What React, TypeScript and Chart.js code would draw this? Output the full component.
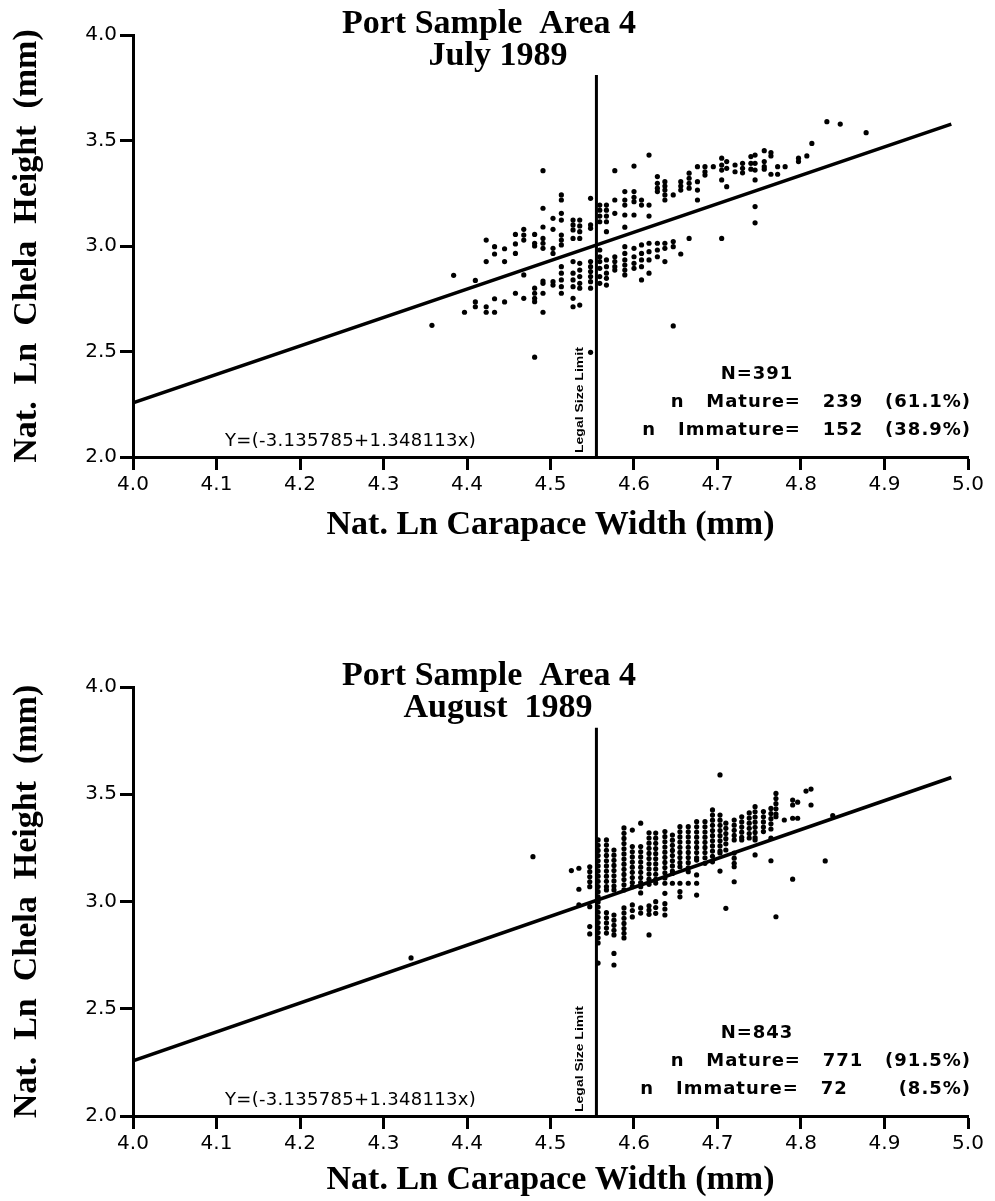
import React, { useEffect, useRef } from "react";
import { Chart, registerables } from "chart.js";

Chart.register(...registerables);

// ---------- data ----------
const X_MIN = 4.0;
const X_MAX = 5.0;
const X_STEP = 0.1;
const Y_MIN = 2.0;
const Y_MAX = 4.0;
const Y_STEP = 0.5;

// regression line endpoints (Y = -3.135785 + 1.348113x)
const regLineX = [4.0, 4.98];
const regLineY = [2.257, 3.578];

// legal size limit vertical line
const legalLimitX = 4.555;
const legalLineY = [2.0, 3.81];

const equationText = "Y=(-3.135785+1.348113x)";
const legalText = "Legal Size Limit";
const xAxisTitle = "Nat. Ln Carapace Width (mm)";
const yAxisTitle = "Nat.  Ln  Chela  Height  (mm)";

const julyTitle = ["Port Sample  Area 4", "July 1989"];
const julyStats = ["N=391", "n   Mature=   239   (61.1%)", "n   Immature=   152   (38.9%)"];
const augTitle = ["Port Sample  Area 4", "August  1989"];
const augStats = ["N=843", "n   Mature=   771   (91.5%)", "n   Immature=   72       (8.5%)"];

// July 1989: ln carapace width columns and the ln chela heights in each
const julyWidths = [
  4.358, 4.384, 4.397, 4.41, 4.423, 4.433, 4.445, 4.458, 4.468, 4.481,
  4.491, 4.503, 4.513, 4.527, 4.535, 4.548, 4.559, 4.567, 4.577, 4.589,
  4.6, 4.609, 4.618, 4.628, 4.637, 4.647, 4.656, 4.666, 4.676, 4.685,
  4.695, 4.705, 4.711, 4.721, 4.73, 4.74, 4.745, 4.756, 4.764, 4.772,
  4.781, 4.797, 4.807, 4.813, 4.831, 4.847, 4.878,
];
const julyHeights = [
  [2.624],
  [2.861],
  [2.686],
  [2.837, 2.735, 2.712],
  [3.028, 2.926, 2.712, 2.686],
  [2.997, 2.962, 2.75, 2.686],
  [2.987, 2.926, 2.735],
  [3.055, 3.01, 2.965, 2.776],
  [3.079, 3.052, 3.028, 2.863, 2.752],
  [3.055, 3.013, 3.0, 2.8, 2.776, 2.752, 2.736, 2.473],
  [3.357, 3.179, 3.09, 3.036, 3.013, 2.989, 2.834, 2.823, 2.776, 2.686],
  [3.131, 3.079, 2.989, 2.965, 2.831, 2.815],
  [3.242, 3.218, 3.155, 3.123, 3.052, 3.028, 3.005, 2.902, 2.871, 2.839, 2.807, 2.776],
  [3.123, 3.1, 3.076, 3.036, 2.926, 2.871, 2.839, 2.807, 2.752, 2.712],
  [3.123, 3.095, 3.068, 3.036, 2.918, 2.886, 2.855, 2.823, 2.8, 2.72],
  [3.226, 3.1, 3.084, 2.926, 2.902, 2.879, 2.855, 2.831, 2.8, 2.496],
  [3.194, 3.17, 3.142, 3.115, 2.981, 2.949, 2.926, 2.894, 2.855, 2.823],
  [3.194, 3.17, 3.142, 3.115, 3.068, 2.934, 2.902, 2.871, 2.847, 2.815],
  [3.357, 3.218, 3.155, 2.949, 2.926, 2.902, 2.886],
  [3.258, 3.218, 3.194, 3.147, 3.089, 2.997, 2.965, 2.934, 2.91, 2.886, 2.863],
  [3.379, 3.258, 3.231, 3.21, 3.147, 2.989, 2.949, 2.918, 2.894],
  [3.218, 3.194, 3.005, 2.965, 2.934, 2.902, 2.839],
  [3.431, 3.194, 3.142, 3.013, 2.973, 2.934, 2.871],
  [3.329, 3.297, 3.274, 3.258, 3.013, 2.981, 2.949],
  [3.305, 3.284, 3.265, 3.242, 3.218, 3.013, 2.989, 2.926],
  [3.242, 3.021, 2.997, 2.621],
  [3.305, 3.284, 3.265, 2.962],
  [3.345, 3.321, 3.297, 3.274, 3.036],
  [3.376, 3.305, 3.265, 3.218],
  [3.376, 3.352, 3.336],
  [3.376],
  [3.416, 3.384, 3.36, 3.313, 3.036],
  [3.4, 3.368, 3.281],
  [3.384, 3.352],
  [3.392, 3.368, 3.347],
  [3.424, 3.392, 3.364],
  [3.431, 3.392, 3.36, 3.313, 3.187, 3.11],
  [3.452, 3.4, 3.376, 3.364],
  [3.443, 3.427, 3.34],
  [3.376, 3.34],
  [3.376],
  [3.416, 3.4],
  [3.427],
  [3.486],
  [3.589],
  [3.578],
  [3.537],
];

// August 1989
const augWidths = [
  4.333, 4.479, 4.525, 4.534, 4.547, 4.557, 4.567, 4.576, 4.588, 4.598,
  4.608, 4.618, 4.626, 4.637, 4.646, 4.655, 4.665, 4.675, 4.685, 4.694,
  4.703, 4.71, 4.72, 4.729, 4.738, 4.745, 4.755, 4.764, 4.77, 4.78,
  4.79, 4.796, 4.806, 4.812, 4.829, 4.838,
];
const augHeights = [
  [2.737],
  [3.209],
  [3.144],
  [3.155, 3.057, 2.984],
  [3.162, 3.139, 3.115, 3.092, 3.069, 2.976, 2.883, 2.849],
  [3.287, 3.262, 3.238, 3.214, 3.19, 3.166, 3.142, 3.118, 3.094, 3.07, 3.046, 3.022, 2.998, 2.974, 2.95, 2.926, 2.902, 2.878, 2.855, 2.831, 2.807, 2.713],
  [3.287, 3.263, 3.239, 3.215, 3.19, 3.166, 3.142, 3.118, 3.094, 3.07, 3.054, 2.948, 2.924, 2.9, 2.876, 2.853],
  [3.24, 3.216, 3.192, 3.168, 3.144, 3.12, 3.096, 3.072, 3.054, 2.937, 2.913, 2.889, 2.866, 2.844, 2.758, 2.704],
  [3.343, 3.318, 3.294, 3.27, 3.246, 3.222, 3.198, 3.174, 3.15, 3.126, 3.102, 3.078, 3.054, 2.97, 2.946, 2.922, 2.898, 2.874, 2.852, 2.83],
  [3.333, 3.256, 3.232, 3.208, 3.184, 3.16, 3.136, 3.112, 3.088, 3.069, 2.984, 2.958, 2.928],
  [3.365, 3.256, 3.232, 3.208, 3.184, 3.16, 3.136, 3.112, 3.088, 3.069, 3.04, 2.97, 2.946],
  [3.32, 3.296, 3.272, 3.248, 3.224, 3.2, 3.176, 3.152, 3.128, 3.104, 3.08, 2.98, 2.96, 2.94, 2.844],
  [3.319, 3.295, 3.271, 3.247, 3.223, 3.199, 3.175, 3.151, 3.127, 3.103, 3.086, 2.999, 2.972, 2.945],
  [3.326, 3.302, 3.278, 3.254, 3.23, 3.206, 3.182, 3.158, 3.134, 3.11, 3.085, 3.038, 2.99, 2.965, 2.937],
  [3.31, 3.286, 3.262, 3.238, 3.214, 3.19, 3.166, 3.142, 3.131, 3.085],
  [3.349, 3.325, 3.301, 3.277, 3.253, 3.229, 3.205, 3.181, 3.162, 3.085, 3.046, 3.022],
  [3.349, 3.325, 3.301, 3.277, 3.253, 3.229, 3.205, 3.181, 3.157, 3.139, 3.085],
  [3.372, 3.348, 3.324, 3.3, 3.276, 3.252, 3.228, 3.204, 3.193, 3.124, 3.085, 3.03],
  [3.372, 3.348, 3.324, 3.3, 3.276, 3.252, 3.228, 3.204, 3.178],
  [3.427, 3.403, 3.379, 3.355, 3.331, 3.307, 3.283, 3.259, 3.235, 3.211, 3.185],
  [3.59, 3.403, 3.379, 3.355, 3.331, 3.307, 3.283, 3.259, 3.235, 3.226, 3.142],
  [3.365, 3.341, 3.317, 3.293, 3.269, 3.24, 2.968],
  [3.38, 3.356, 3.332, 3.308, 3.287, 3.226, 3.202, 3.178, 3.162, 3.092],
  [3.395, 3.371, 3.347, 3.323, 3.299, 3.287],
  [3.413, 3.389, 3.365, 3.341, 3.317, 3.296],
  [3.442, 3.418, 3.394, 3.37, 3.346, 3.322, 3.298, 3.287, 3.217],
  [3.419, 3.395, 3.371, 3.347, 3.326],
  [3.434, 3.41, 3.386, 3.362, 3.338, 3.295, 3.19],
  [3.504, 3.48, 3.456, 3.432, 3.408, 3.395, 2.929],
  [3.38],
  [3.473, 3.45, 3.388, 3.104],
  [3.463, 3.388],
  [3.515],
  [3.524, 3.45],
  [3.189],
  [3.4],
];

// ---------- drawing ----------
function setSpacing(ctx: any, v: string) {
  if ("letterSpacing" in ctx) ctx.letterSpacing = v;
}

const panelTextPlugin = {
  id: "panelText",
  afterDraw(chart: any, _args: any, opts: any) {
    const { ctx, chartArea: a, scales } = chart;
    ctx.save();
    ctx.fillStyle = "#000";
    // panel title
    ctx.font = 'bold 34px "Liberation Serif"';
    ctx.textAlign = "center";
    ctx.textBaseline = "alphabetic";
    ctx.fillText(opts.title[0], 489, a.top - 2);
    ctx.fillText(opts.title[1], 498, a.top + 30);
    // equation
    ctx.font = '18px "DejaVu Sans"';
    setSpacing(ctx, "0.3px");
    ctx.textAlign = "left";
    ctx.fillText(opts.equation, 225, a.bottom - 11);
    // counts
    ctx.font = 'bold 18px "DejaVu Sans"';
    setSpacing(ctx, "1px");
    ctx.textAlign = "center";
    ctx.fillText(opts.stats[0], 757, a.bottom - 78);
    ctx.textAlign = "right";
    ctx.fillText(opts.stats[1], 971, a.bottom - 50);
    ctx.fillText(opts.stats[2], 971, a.bottom - 22);
    setSpacing(ctx, "0px");
    // legal size limit label (rotated, narrow)
    const lx = scales.x.getPixelForValue(opts.legalX);
    ctx.translate(lx - 16, a.bottom - 4);
    ctx.rotate(-Math.PI / 2);
    ctx.scale(1, 0.75);
    ctx.font = 'bold 14px "Liberation Sans"';
    ctx.textAlign = "left";
    ctx.textBaseline = "middle";
    ctx.fillText(opts.legalText, 0, 0);
    ctx.restore();
  },
};

function buildConfig(
  widths: number[],
  heights: number[][],
  title: string[],
  stats: string[],
  padTop: number,
  canvasH: number,
  areaBottom: number,
  titlePadBottom: number
): any {
  const points = widths.flatMap((x, i) => heights[i].map((y) => ({ x, y })));
  const regLine = regLineX.map((x, i) => ({ x, y: regLineY[i] }));
  const legalLine = legalLineY.map((y) => ({ x: legalLimitX, y }));
  const tickFont = { family: '"DejaVu Sans"', size: 20 };
  const titleFont = { family: '"Liberation Serif"', size: 34, weight: "bold" };
  const grid = {
    display: true,
    drawOnChartArea: false,
    drawTicks: true,
    tickLength: 13,
    tickWidth: 3,
    tickColor: "#000",
    color: "#000",
  };
  return {
    type: "scatter",
    data: {
      datasets: [
        {
          data: points,
          pointRadius: 2.6,
          pointHoverRadius: 2.6,
          pointBackgroundColor: "#000",
          pointBorderWidth: 0,
          showLine: false,
        },
        {
          data: regLine,
          showLine: true,
          borderColor: "#000",
          borderWidth: 3.5,
          pointRadius: 0,
        },
        {
          data: legalLine,
          showLine: true,
          borderColor: "#000",
          borderWidth: 3,
          pointRadius: 0,
        },
      ],
    },
    options: {
      responsive: false,
      animation: false,
      events: [],
      layout: { padding: { top: padTop, right: 27, left: 0, bottom: 0 } },
      plugins: {
        legend: { display: false },
        tooltip: { enabled: false },
        title: { display: false },
        panelText: {
          title,
          stats,
          equation: equationText,
          legalText,
          legalX: legalLimitX,
        },
      },
      scales: {
        x: {
          type: "linear",
          position: "bottom",
          min: X_MIN,
          max: X_MAX,
          ticks: {
            stepSize: X_STEP,
            autoSkip: false,
            maxRotation: 0,
            color: "#000",
            font: tickFont,
            padding: 3,
            callback: (v: any) => Number(v).toFixed(1),
          },
          grid,
          border: { display: true, width: 3, color: "#000" },
          title: {
            display: true,
            text: xAxisTitle,
            color: "#000",
            font: titleFont,
            padding: { top: 0, bottom: titlePadBottom },
          },
          afterFit: (s: any) => {
            s.height = canvasH - areaBottom;
          },
        },
        y: {
          type: "linear",
          position: "left",
          min: Y_MIN,
          max: Y_MAX,
          ticks: {
            stepSize: Y_STEP,
            autoSkip: false,
            color: "#000",
            font: tickFont,
            padding: 3,
            callback: (v: any) => Number(v).toFixed(1),
          },
          grid,
          border: { display: true, width: 3, color: "#000" },
          title: {
            display: true,
            text: yAxisTitle,
            color: "#000",
            font: titleFont,
            padding: { top: 7, bottom: 0 },
          },
          afterFit: (s: any) => {
            s.width = 133;
          },
        },
      },
    },
    plugins: [panelTextPlugin],
  };
}

function Panel(props: { top: number; height: number; config: any }) {
  const ref = useRef<HTMLCanvasElement | null>(null);
  useEffect(() => {
    if (!ref.current) return;
    const chart = new Chart(ref.current, props.config);
    return () => chart.destroy();
  }, []);
  return (
    <canvas
      ref={ref}
      width={995}
      height={props.height}
      style={{
        position: "absolute",
        left: 0,
        top: props.top,
        width: 995,
        height: props.height,
        display: "block",
      }}
    />
  );
}

export default function App() {
  const julyConfig = buildConfig(julyWidths, julyHeights, julyTitle, julyStats, 35, 560, 457, 14);
  const augConfig = buildConfig(augWidths, augHeights, augTitle, augStats, 87, 601, 516, 0);
  return (
    <div
      style={{
        position: "absolute",
        left: 0,
        top: 0,
        width: 995,
        height: 1201,
        background: "#fff",
        overflow: "hidden",
      }}
    >
      <Panel top={0} height={560} config={julyConfig} />
      <Panel top={600} height={601} config={augConfig} />
    </div>
  );
}
